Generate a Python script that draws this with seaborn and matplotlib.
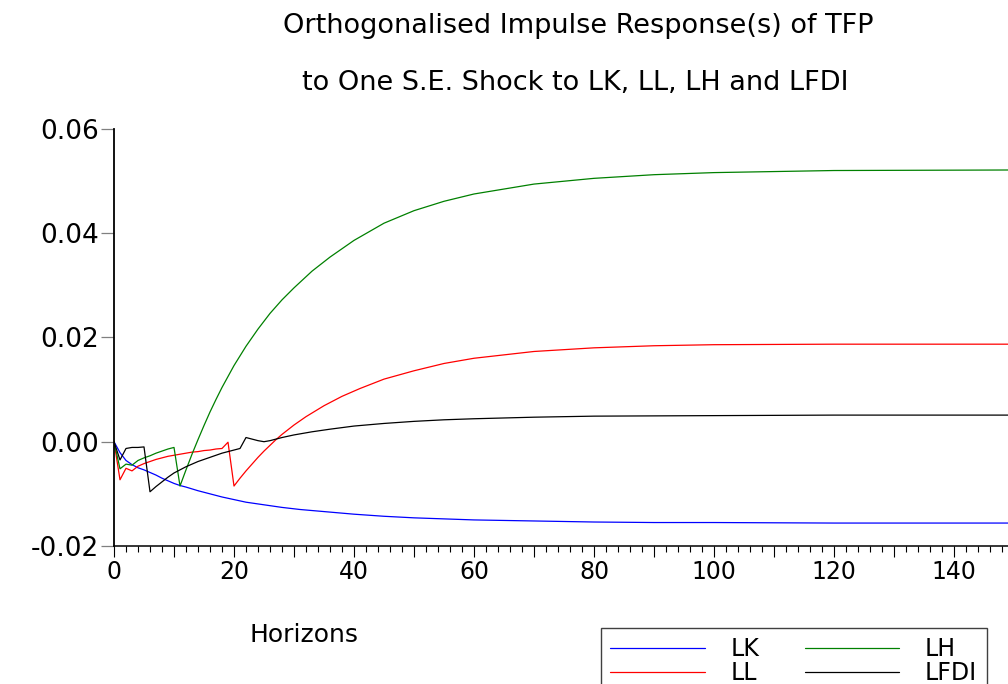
import matplotlib
matplotlib.use("Agg")
import matplotlib.pyplot as plt
from matplotlib.ticker import MultipleLocator, FuncFormatter, FormatStrFormatter
import seaborn as sns
import pandas as pd

# Orthogonalised impulse responses of TFP to one S.E. shocks
shock_names = ["LK", "LL", "LH", "LFDI"]
shock_colors = ["#0000ff", "#ff0000", "#008000", "#000000"]

lk_h = [0, 1, 2, 3, 4, 5, 6, 7, 8, 9, 10, 11, 12, 14, 16, 18, 20, 22, 25, 28,
        31, 35, 40, 45, 50, 55, 60, 70, 80, 90, 100, 120, 149]
lk_v = [0.0, -0.0021, -0.0036, -0.0044, -0.0050, -0.0054, -0.0059, -0.0064,
        -0.0070, -0.0075, -0.0080, -0.0084, -0.0087, -0.0094, -0.0100, -0.0106,
        -0.0111, -0.0116, -0.0121, -0.0126, -0.0130, -0.0134, -0.0139, -0.0143,
        -0.0146, -0.0148, -0.0150, -0.0152, -0.0154, -0.0155, -0.0155, -0.0156,
        -0.0156]

ll_h = [0, 1, 2, 3, 4, 5, 6, 7, 8, 9, 10, 11, 12, 13, 14, 15, 16, 17, 18, 19,
        20, 21, 22, 23, 24, 25, 26, 27, 28, 30, 32, 35, 38, 41, 45, 50, 55, 60,
        70, 80, 90, 100, 120, 149]
ll_v = [0.0, -0.0073, -0.0051, -0.0056, -0.0047, -0.0042, -0.0038, -0.0034,
        -0.0031, -0.0028, -0.0026, -0.0024, -0.0022, -0.0020, -0.0019, -0.0017,
        -0.0016, -0.0014, -0.0013, -0.0001, -0.0085, -0.0070, -0.0056, -0.0043,
        -0.0030, -0.0018, -0.0007, 0.0004, 0.0014, 0.0032, 0.0048, 0.0069,
        0.0087, 0.0102, 0.0120, 0.0136, 0.0150, 0.0160, 0.0173, 0.0180, 0.0184,
        0.0186, 0.0187, 0.0187]

lh_h = [0, 1, 2, 3, 4, 5, 6, 7, 8, 9, 10, 11, 12, 13, 14, 15, 16, 17, 18, 19,
        20, 22, 24, 26, 28, 30, 33, 36, 40, 45, 50, 55, 60, 70, 80, 90, 100,
        120, 149]
lh_v = [0.0, -0.0052, -0.0043, -0.0045, -0.0036, -0.0031, -0.0027, -0.0022,
        -0.0018, -0.0014, -0.0011, -0.0085, -0.0054, -0.0024, 0.0004, 0.0031,
        0.0057, 0.0081, 0.0104, 0.0125, 0.0146, 0.0183, 0.0216, 0.0246, 0.0272,
        0.0295, 0.0327, 0.0354, 0.0386, 0.0419, 0.0443, 0.0461, 0.0475, 0.0494,
        0.0505, 0.0512, 0.0516, 0.0520, 0.0521]

lfdi_h = [0, 1, 2, 3, 4, 5, 6, 7, 8, 9, 10, 11, 12, 13, 14, 15, 16, 17, 18, 19,
          20, 21, 22, 23, 24, 25, 26, 28, 30, 33, 36, 40, 45, 50, 55, 60, 70,
          80, 100, 120, 149]
lfdi_v = [0.0, -0.0035, -0.0013, -0.0011, -0.0011, -0.0010, -0.0096, -0.0086,
          -0.0077, -0.0068, -0.0060, -0.0054, -0.0048, -0.0043, -0.0038,
          -0.0034, -0.0030, -0.0026, -0.0022, -0.0019, -0.0016, -0.0013, 0.0008,
          0.0005, 0.0002, 0.0000, 0.0002, 0.0008, 0.0013, 0.0019, 0.0024,
          0.0030, 0.0035, 0.0039, 0.0042, 0.0044, 0.0047, 0.0049, 0.0050,
          0.0051, 0.0051]

title_lines = ["Orthogonalised Impulse Response(s) of TFP",
               "to One S.E. Shock to LK, LL, LH and LFDI"]
x_label = "Horizons"
y_ticks = [-0.02, 0.00, 0.02, 0.04, 0.06]

frames = []
for name, hs, vs in [("LK", lk_h, lk_v), ("LL", ll_h, ll_v),
                     ("LH", lh_h, lh_v), ("LFDI", lfdi_h, lfdi_v)]:
    frames.append(pd.DataFrame({"horizon": hs, "response": vs, "shock": name}))
df = pd.concat(frames, ignore_index=True)

sns.set_style("white")
plt.rcParams["font.family"] = ["DejaVu Sans"]
plt.rcParams["axes.unicode_minus"] = False
plt.rcParams["text.color"] = "black"

W, H = 1008, 684
fig = plt.figure(figsize=(W / 100, H / 100), dpi=100)
ax = fig.add_axes([114 / W, (H - 546) / H, (W - 114) / W, (546 - 128.8) / H])

sns.lineplot(data=df, x="horizon", y="response", hue="shock",
             hue_order=shock_names, palette=dict(zip(shock_names, shock_colors)),
             estimator=None, linewidth=0.9, ax=ax)

ax.set_xlim(0, 149)
ax.set_ylim(-0.02, 0.06)

for side in ["top", "right"]:
    ax.spines[side].set_visible(False)
ax.spines["left"].set_color("black")
ax.spines["left"].set_linewidth(1.3)
ax.spines["bottom"].set_color("black")
ax.spines["bottom"].set_linewidth(1.1)

ax.xaxis.set_major_locator(MultipleLocator(10))
ax.xaxis.set_minor_locator(MultipleLocator(2))
ax.xaxis.set_major_formatter(
    FuncFormatter(lambda v, p: f"{int(round(v))}" if int(round(v)) % 20 == 0 else ""))
ax.set_yticks(y_ticks)
ax.yaxis.set_major_formatter(FormatStrFormatter("%.2f"))

ax.tick_params(axis="x", which="major", direction="out", length=8, width=0.8,
               color="black", labelcolor="black", labelsize=17, pad=2,
               bottom=True)
ax.tick_params(axis="x", which="minor", direction="out", length=4, width=0.8,
               color="black", bottom=True)
ax.tick_params(axis="y", which="major", direction="out", length=9.5, width=0.9,
               color="#808080", labelcolor="black", labelsize=19, pad=1.5,
               left=True)

ax.set_xlabel("")
ax.set_ylabel("")

fig.text(578 / W, 1 - 33.3 / H, title_lines[0], ha="center", va="baseline",
         fontsize=19.5, color="black")
fig.text(575 / W, 1 - 90 / H, title_lines[1], ha="center", va="baseline",
         fontsize=19.5, color="black")
fig.text(304 / W, 1 - 641.7 / H, x_label, ha="center", va="baseline",
         fontsize=18, color="black")

handles, labels = ax.get_legend_handles_labels()
if ax.get_legend() is not None:
    ax.get_legend().remove()
leg = fig.legend(handles, labels, loc="upper left",
                 bbox_to_anchor=(601 / W, 1 - 628 / H),
                 bbox_transform=fig.transFigure, ncol=2, fontsize=17,
                 frameon=True, fancybox=False, shadow=False, framealpha=1,
                 edgecolor="#404040", borderaxespad=0, borderpad=0.4,
                 handlelength=4.0, handletextpad=1.1, columnspacing=1.9,
                 labelspacing=0.0)
leg.get_frame().set_linewidth(1.0)
for t in leg.get_texts():
    t.set_color("black")

fig.savefig("out.png", dpi=100)
